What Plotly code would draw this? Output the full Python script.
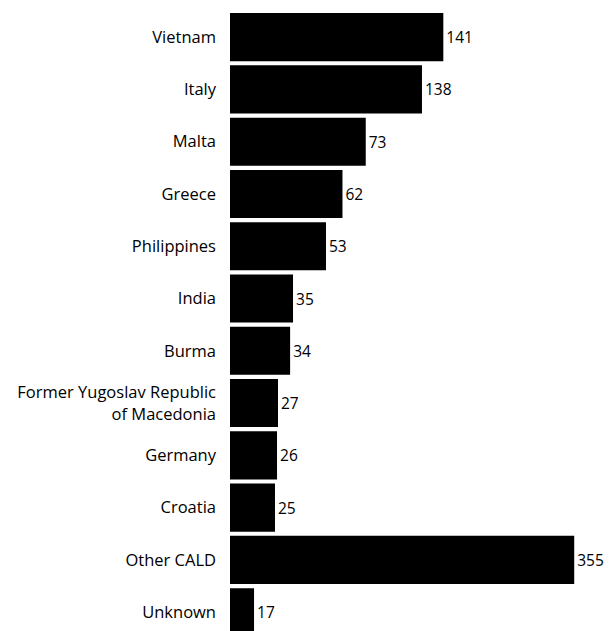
import plotly.graph_objects as go

countries = ["Vietnam", "Italy", "Malta", "Greece", "Philippines", "India", "Burma",
             "Former Yugoslav Republic<br>of Macedonia", "Germany", "Croatia",
             "Other CALD", "Unknown"]
# numbers printed beside the bars
count_labels = [141, 138, 73, 62, 53, 35, 34, 27, 26, 25, 355, 17]
# bar lengths as drawn in the picture (axis units, Other CALD = 355)
bar_lengths = [220, 198, 140, 116, 99, 65, 62, 49.5, 48.5, 46.4, 355, 24.8]

fig = go.Figure(go.Bar(
    x=bar_lengths,
    y=countries,
    orientation="h",
    marker=dict(color="#000000", line=dict(width=0)),
    text=[str(v) for v in count_labels],
    textposition="outside",
    cliponaxis=False,
    textfont=dict(family="Open Sans", size=15.5, color="#000000"),
    hoverinfo="skip",
))

fig.update_layout(
    width=605, height=623,
    margin=dict(l=222, r=0, t=3, b=0),
    paper_bgcolor="white", plot_bgcolor="white",
    bargap=0.08,
    showlegend=False,
    font=dict(family="Open Sans", size=15.5, color="#000000"),
    xaxis=dict(range=[0, 395], visible=False, showgrid=False, zeroline=False),
    yaxis=dict(type="category", range=[11.36, -0.5], showgrid=False, zeroline=False,
               showline=False, ticks="", ticklabelstandoff=13,
               tickfont=dict(family="Open Sans", size=16.5, color="#000000")),
)

fig.write_html("out.html")
